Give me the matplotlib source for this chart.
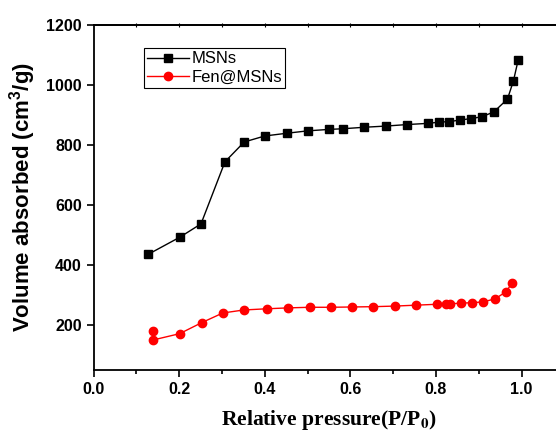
import matplotlib
matplotlib.use("Agg")
import matplotlib.pyplot as plt
from matplotlib.ticker import MultipleLocator

# data
p_msn = [0.127, 0.202, 0.251, 0.307, 0.352, 0.400, 0.451, 0.500, 0.551, 0.582,
         0.632, 0.683, 0.732, 0.781, 0.807, 0.831, 0.856, 0.882, 0.907, 0.935,
         0.967, 0.981, 0.992]
v_msn = [435, 493, 537, 744, 810, 830, 839, 847, 852, 854,
         859, 863, 868, 872, 876, 878, 883, 888, 894, 910,
         953, 1014, 1083]

p_fen = [0.139, 0.139, 0.201, 0.253, 0.302, 0.351, 0.405, 0.455, 0.505, 0.555,
         0.604, 0.654, 0.704, 0.753, 0.802, 0.823, 0.832, 0.858, 0.883, 0.910,
         0.938, 0.964, 0.978]
v_fen = [181, 150, 171, 208, 240, 250, 254, 257, 259, 259,
         260, 261, 263, 266, 269, 270, 270, 273, 274, 277,
         287, 311, 341]

plt.rcParams['mathtext.fontset'] = 'custom'
plt.rcParams['mathtext.bf'] = 'Liberation Sans:bold'
plt.rcParams['mathtext.rm'] = 'Liberation Sans:bold'

fig = plt.figure(figsize=(5.56, 4.38), dpi=100)
ax = fig.add_axes([0.1683, 0.1553, 0.8468, 0.7877])

ax.plot(p_msn, v_msn, '-s', color='black', lw=1, ms=5.5, label='MSNs')
ax.plot(p_fen, v_fen, '-o', color='red', lw=1, ms=6, label='Fen@MSNs')

ax.set_xlim(0, 1.1)
ax.set_ylim(50, 1200)
ax.xaxis.set_minor_locator(MultipleLocator(0.1))
ax.set_xticks([0.0, 0.2, 0.4, 0.6, 0.8, 1.0])
ax.set_yticks([200, 400, 600, 800, 1000, 1200])

for s in ax.spines.values():
    s.set_linewidth(1.3)
ax.spines['right'].set_visible(False)

ax.tick_params(axis='both', which='major', direction='out', length=5, width=1.2,
               labelsize=11.5)
ax.tick_params(axis='x', which='minor', direction='out', length=3, width=1.2)
for lab in ax.get_xticklabels() + ax.get_yticklabels():
    lab.set_fontfamily('Liberation Sans')
    lab.set_fontweight('bold')

top = ax.secondary_xaxis('top')
top.set_xticks([0.1, 0.2, 0.3, 0.4, 0.5, 0.6, 0.7, 0.8, 0.9, 1.0])
top.tick_params(direction='inout', length=3, width=0.8, labeltop=False)
top.spines['top'].set_linewidth(1.3)

ax.set_xlabel('Relative pressure(P/P$_\\mathbf{0}$)', fontfamily='Liberation Serif',
              fontweight='bold', fontsize=15.5, math_fontfamily='stix', labelpad=8)
ax.set_ylabel('Volume absorbed (cm$^\\mathbf{3}$/g)', fontfamily='Liberation Sans',
              fontweight='bold', fontsize=16, labelpad=6)

leg = ax.legend(loc='upper left', bbox_to_anchor=(0.107, 0.933),
                prop={'family': 'Liberation Sans', 'size': 12},
                frameon=True, fancybox=False, edgecolor='black', framealpha=1,
                borderpad=0.2, handlelength=2.5, handletextpad=0.15,
                labelspacing=0.2, borderaxespad=0)
leg.get_frame().set_linewidth(0.8)

fig.savefig('out.png', dpi=100)
